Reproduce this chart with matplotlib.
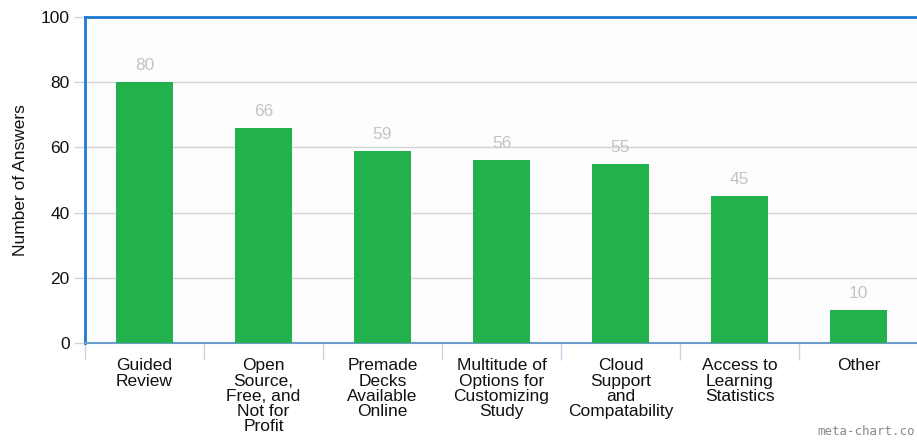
import matplotlib.pyplot as plt
import numpy as np

categories = ["Guided\nReview", "Open\nSource,\nFree, and\nNot for\nProfit",
              "Premade\nDecks\nAvailable\nOnline", "Multitude of\nOptions for\nCustomizing\nStudy",
              "Cloud\nSupport\nand\nCompatability", "Access to\nLearning\nStatistics", "Other"]
answers = [80, 66, 59, 56, 55, 45, 10]
yticks = [0, 20, 40, 60, 80, 100]

plt.rcParams['font.family'] = ['Liberation Sans', 'DejaVu Sans']

fig = plt.figure(figsize=(9.17, 4.42), dpi=100)
ax = fig.add_axes([85 / 917, 1 - 343 / 442, 833 / 917, 326 / 442])
ax.set_facecolor('#fdfdfd')

x = np.arange(len(categories))
ax.bar(x, answers, width=0.48, color='#23b14d', zorder=3)
for xi, v in zip(x, answers):
    ax.text(xi, v + 2.8, str(v), ha='center', va='bottom', fontsize=12.5, color='#c4c4c4', zorder=4)

ax.set_xlim(-0.5, len(categories) - 0.5)
ax.set_ylim(0, 100)
ax.set_yticks(yticks)
ax.set_yticklabels([str(t) for t in yticks], fontsize=12.5, color='#111111')
ax.yaxis.grid(True, color='#d4d4d4', linewidth=1, zorder=0)
ax.tick_params(axis='y', length=8, color='#c8d4e4', width=1, pad=3)

# category labels sit under the bars, tick marks between the categories
ax.set_xticks(x)
ax.set_xticklabels(categories, fontsize=12.5, linespacing=1.02, color='#111111')
ax.tick_params(axis='x', length=0, pad=11)
ax.set_xticks(np.arange(len(categories) + 1) - 0.5, minor=True)
ax.tick_params(axis='x', which='minor', length=12, color='#c8d4e4', width=1)

for side in ['left', 'top', 'bottom']:
    ax.spines[side].set_color('#1f7ad0')
    ax.spines[side].set_linewidth(2)
ax.spines['bottom'].set_color('#6c9ccc')
ax.spines['bottom'].set_linewidth(1.5)
ax.spines['right'].set_visible(False)

ax.set_ylabel('Number of Answers', fontsize=12.5, color='#111111')
ax.yaxis.set_label_coords(-0.068, 0.5)

fig.text(0.998, 0.008, 'meta-chart.co', ha='right', va='bottom', fontsize=9,
         color='#8a8a8a', family='DejaVu Sans Mono')

fig.savefig('out.png', dpi=100)
